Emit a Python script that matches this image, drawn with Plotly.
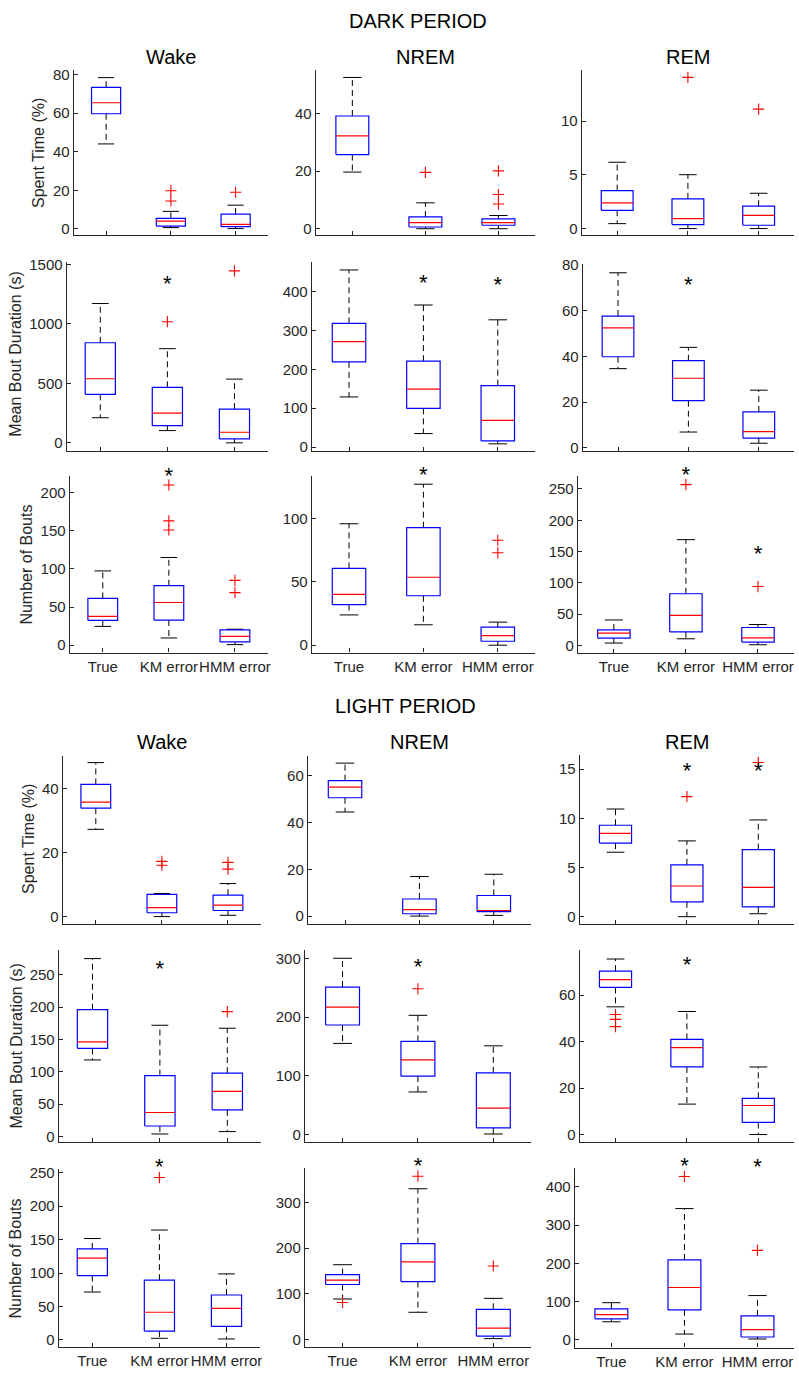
import plotly.graph_objects as go

# ---------------- data ----------------
categories = ["True", "KM error", "HMM error"]
state_titles = ["Wake", "NREM", "REM"]
row_labels = ["Spent Time (%)", "Mean Bout Duration (s)", "Number of Bouts"]

dark_wake_spent = dict(lo=[44.0, 0.7, 0.2], q1=[59.6, 1.5, 1.2], med=[65.3, 4.1, 2.4], q3=[73.3, 5.5, 7.7], hi=[78.3, 9.1, 12.3],
                       out=[[], [19.8, 14.5], [19.0]], star=[None, None, None])
dark_nrem_spent = dict(lo=[19.7, 0.0, 0.0], q1=[25.8, 0.6, 1.2], med=[32.3, 2.1, 2.1], q3=[39.2, 4.1, 3.4], hi=[52.6, 9.0, 4.6],
                       out=[[], [19.6], [20.1, 11.9, 8.6]], star=[None, None, None])
dark_rem_spent = dict(lo=[0.46, 0.0, 0.0], q1=[1.7, 0.37, 0.31], med=[2.4, 0.92, 1.23], q3=[3.54, 2.77, 2.09], hi=[6.18, 5.02, 3.29],
                      out=[[], [14.09], [11.13]], star=[None, None, None])
dark_wake_dur = dict(lo=[211, 103, 0], q1=[408, 144, 33], med=[539, 250, 89], q3=[842, 467, 283], hi=[1172, 792, 536],
                     out=[[], [1019], [1447]], star=[None, 1325, None])
dark_nrem_dur = dict(lo=[129, 35, 8.6], q1=[219, 99.5, 16], med=[271, 149, 69], q3=[318, 221, 158], hi=[455, 365, 327],
                     out=[[], [], []], star=[None, 417, 412])
dark_rem_dur = dict(lo=[34.6, 6.9, 2.0], q1=[39.8, 20.6, 4.2], med=[52.4, 30.4, 7.1], q3=[57.6, 38.1, 15.7], hi=[76.5, 43.9, 25.2],
                    out=[[], [], []], star=[None, 70.6, None])
dark_wake_num = dict(lo=[24.7, 9.5, 0.8], q1=[32.5, 33, 4.3], med=[37.7, 56, 11.7], q3=[61.4, 78, 20], hi=[97.4, 115, 21],
                     out=[[], [210, 163, 151], [85, 69]], star=[None, 219.5, None])
dark_nrem_num = dict(lo=[23.9, 16.1, 0], q1=[32, 39, 3.1], med=[40.1, 53.6, 7.5], q3=[60.6, 92.7, 14.3], hi=[95.8, 127, 18.2],
                     out=[[], [], [82.8, 72.9]], star=[None, 132.8, None])
dark_rem_num = dict(lo=[3.7, 10.5, 1], q1=[11.6, 21.6, 5.2], med=[19.5, 48, 12], q3=[24.8, 82.5, 28.5], hi=[40.6, 169, 33.3],
                    out=[[], [257], [94]], star=[None, 270.5, 143.8])

light_wake_spent = dict(lo=[27.2, 0.0, 0.4], q1=[33.8, 1.2, 1.9], med=[35.7, 2.8, 3.6], q3=[41.2, 6.9, 6.7], hi=[48.0, 7.2, 10.3],
                        out=[[], [17.2, 16.0], [16.9, 14.8]], star=[None, None, None])
light_nrem_spent = dict(lo=[44.5, 0.0, 0.3], q1=[50.6, 1.0, 1.9], med=[55.1, 2.8, 2.4], q3=[57.9, 7.3, 8.8], hi=[65.4, 16.9, 17.9],
                        out=[[], [], []], star=[None, None, None])
light_rem_spent = dict(lo=[6.55, 0.0, 0.3], q1=[7.48, 1.51, 1.0], med=[8.46, 3.12, 2.98], q3=[9.29, 5.27, 6.81], hi=[10.94, 7.7, 9.83],
                       out=[[], [12.2], [15.67]], star=[None, 14.66, 14.63])
light_wake_dur = dict(lo=[118.4, 4, 7.7], q1=[136.3, 16.3, 41.3], med=[146.4, 37.2, 69.9], q3=[196, 94.3, 98], hi=[275, 172, 167.4],
                      out=[[], [], [193]], star=[None, 256.7, None])
light_nrem_dur = dict(lo=[155.1, 72.5, 1], q1=[186.4, 99.4, 11.2], med=[216.8, 127, 44.9], q3=[251, 158.5, 105], hi=[300, 202.9, 151],
                      out=[[], [248], []], star=[None, 282, None])
light_rem_dur = dict(lo=[55.0, 13.1, 0], q1=[63.4, 29.1, 5.2], med=[66.7, 37.4, 12.5], q3=[70.4, 41.0, 15.6], hi=[75.6, 53.0, 29.1],
                     out=[[51.7, 49.6, 46.5], [], []], star=[None, 72.5, None])
light_wake_num = dict(lo=[71.6, 2.5, 1.5], q1=[96.2, 13.3, 20.3], med=[122.3, 41.4, 47.3], q3=[136, 89.3, 67.2], hi=[151.5, 164.2, 98.7],
                      out=[[], [242.6], []], star=[None, 255.5, None])
light_nrem_num = dict(lo=[88.5, 59.4, 1.5], q1=[120.3, 126.8, 7.2], med=[129.8, 170, 24.6], q3=[142, 210, 65.9], hi=[163.7, 330.4, 89.9],
                      out=[[81], [358], [160.9]], star=[None, 376, None])
light_rem_num = dict(lo=[47.5, 15.5, 2.6], q1=[55.2, 78.6, 7.8], med=[66.4, 137, 26.9], q3=[81, 209, 63], hi=[97.4, 343, 116],
                     out=[[], [427], [234]], star=[None, 449, 447])

# ---------------- layout configuration ----------------
W, H = 799, 1378
BW = 0.225   # half box width (category units)
CW = 0.125   # half cap width
AX = "#262626"
FONT = "Liberation Sans, Arial, sans-serif"

# (data, left px, right px, top px, bottom px, y-range, dtick, row index)
panels = [
    (dark_wake_spent, 74, 269, 62.3, 229.5, [-3.3, 82.4], 20, 0),
    (dark_nrem_spent, 317, 537, 62.3, 229.5, [-2.3, 55.3], 20, 0),
    (dark_rem_spent, 584, 797, 62.3, 229.5, [-0.63, 14.8], 5, 0),
    (dark_wake_dur, 67, 269, 256.7, 447, [-67, 1519], 500, 1),
    (dark_nrem_dur, 313, 537, 256, 447.7, [-11, 476.5], 100, 1),
    (dark_rem_dur, 585, 797, 258.3, 447.7, [-1.6, 80.4], 20, 1),
    (dark_wake_num, 70, 269, 472.3, 650.7, [-9.6, 222], 50, 2),
    (dark_nrem_num, 313, 537, 472.3, 650.7, [-5.8, 133.6], 50, 2),
    (dark_rem_num, 580, 797, 472.3, 651, [-12, 271], 50, 2),
    (light_wake_spent, 63, 262, 755, 925, [-2.4, 50.1], 20, 0),
    (light_nrem_spent, 309, 533, 755, 925, [-3.5, 68.5], 20, 0),
    (light_rem_spent, 582, 797, 754, 925, [-0.77, 16.44], 5, 0),
    (light_wake_dur, 59, 262, 950.7, 1145, [-8.7, 288.7], 50, 1),
    (light_nrem_dur, 306, 533, 950.7, 1145, [-13, 314.5], 100, 1),
    (light_rem_dur, 582, 797, 950.7, 1145, [-3.3, 79.6], 20, 1),
    (light_wake_num, 59, 261, 1171.7, 1351.7, [-10.4, 255.9], 50, 2),
    (light_nrem_num, 306, 533, 1170.7, 1351.7, [-16.7, 376.7], 100, 2),
    (light_rem_num, 577, 797, 1170.7, 1352.3, [-19.7, 449.9], 100, 2),
]

# y-axis title positions (px) for the first column of each block
ylabel_pos = [(38.5, 146), (16, 349), (27, 562), (28, 839), (16.5, 1048), (15.5, 1262)]

fig = go.Figure()
layout = dict(
    width=W, height=H, margin=dict(l=0, r=0, t=0, b=0),
    paper_bgcolor="white", plot_bgcolor="white", showlegend=False,
    font=dict(family=FONT, color=AX, size=15),
)
annotations = []

for k, (d, L, R, T, B, yr, dt, row) in enumerate(panels, start=1):
    xa, ya = f"x{k}", f"y{k}"
    xs = [1, 2, 3]
    bx, by, mx, my, wx, wy, cx, cy = [], [], [], [], [], [], [], []
    ox, oy, sx, sy = [], [], [], []
    for i, x in enumerate(xs):
        q1, q3, md, lo, hi = d["q1"][i], d["q3"][i], d["med"][i], d["lo"][i], d["hi"][i]
        bx += [x - BW, x + BW, x + BW, x - BW, x - BW, None]
        by += [q1, q1, q3, q3, q1, None]
        mx += [x - BW, x + BW, None]
        my += [md, md, None]
        wx += [x, x, None, x, x, None]
        wy += [q3, hi, None, q1, lo, None]
        cx += [x - CW, x + CW, None, x - CW, x + CW, None]
        cy += [hi, hi, None, lo, lo, None]
        for v in d["out"][i]:
            ox.append(x)
            oy.append(v)
        if d["star"][i] is not None:
            sx.append(x)
            sy.append(d["star"][i])
    common = dict(xaxis=xa, yaxis=ya, hoverinfo="skip", cliponaxis=False)
    fig.add_trace(go.Scatter(x=wx, y=wy, mode="lines", line=dict(color="black", width=1, dash="6px,4px"), **common))
    fig.add_trace(go.Scatter(x=cx, y=cy, mode="lines", line=dict(color="black", width=1), **common))
    fig.add_trace(go.Scatter(x=bx, y=by, mode="lines", line=dict(color="#0000ff", width=1.2), **common))
    fig.add_trace(go.Scatter(x=mx, y=my, mode="lines", line=dict(color="#ff0000", width=1.2), **common))
    if ox:
        fig.add_trace(go.Scatter(x=ox, y=oy, mode="markers",
                                 marker=dict(symbol="cross-thin-open", size=8, color="#ff0000",
                                             line=dict(color="#ff0000", width=1.1)),
                                 **common))
    if sx:
        fig.add_trace(go.Scatter(x=sx, y=sy, mode="text", text=["*"] * len(sx), textposition="middle center",
                                 textfont=dict(size=22, color="black", family=FONT), **common))

    layout[f"xaxis{k}"] = dict(
        domain=[L / W, R / W], range=[0.5, 3.5], anchor=ya,
        tickmode="array", tickvals=xs, ticktext=categories, showticklabels=(row == 2), tickangle=0,
        ticks="inside", ticklen=4, tickcolor=AX, showline=True, linecolor=AX, linewidth=1.2,
        showgrid=False, zeroline=False, tickfont=dict(size=15, color=AX, family=FONT), fixedrange=True,
    )
    layout[f"yaxis{k}"] = dict(
        domain=[1 - B / H, 1 - T / H], range=yr, anchor=xa,
        tick0=0, dtick=dt, ticks="inside", ticklen=4, tickcolor=AX, showline=True, linecolor=AX, linewidth=1.2,
        showgrid=False, zeroline=False, tickfont=dict(size=15, color=AX, family=FONT), fixedrange=True,
    )

    # column titles
    if row == 0:
        col = (k - 1) % 3
        ty = 49 if k <= 9 else 741
        annotations.append(dict(text=state_titles[col], x=(L + R) / 2 / W, y=1 - ty / H, xref="paper", yref="paper",
                                xanchor="center", yanchor="middle", showarrow=False,
                                font=dict(size=20, color="black", family=FONT)))
    # y-axis titles on first column
    if (k - 1) % 3 == 0:
        idx = (k - 1) // 3
        px, py = ylabel_pos[idx]
        annotations.append(dict(text=row_labels[row], x=px / W, y=1 - py / H, xref="paper", yref="paper",
                                xanchor="center", yanchor="middle", textangle=-90, showarrow=False,
                                font=dict(size=16, color=AX, family=FONT)))

annotations.append(dict(text="DARK PERIOD", x=420 / W, y=1 - 13 / H, xref="paper", yref="paper",
                        xanchor="center", yanchor="middle", showarrow=False,
                        font=dict(size=20, color="black", family=FONT)))
annotations.append(dict(text="LIGHT PERIOD", x=407.5 / W, y=1 - 705 / H, xref="paper", yref="paper",
                        xanchor="center", yanchor="middle", showarrow=False,
                        font=dict(size=20, color="black", family=FONT)))

layout["annotations"] = annotations
fig.update_layout(**layout)
fig.write_html("out.html")
